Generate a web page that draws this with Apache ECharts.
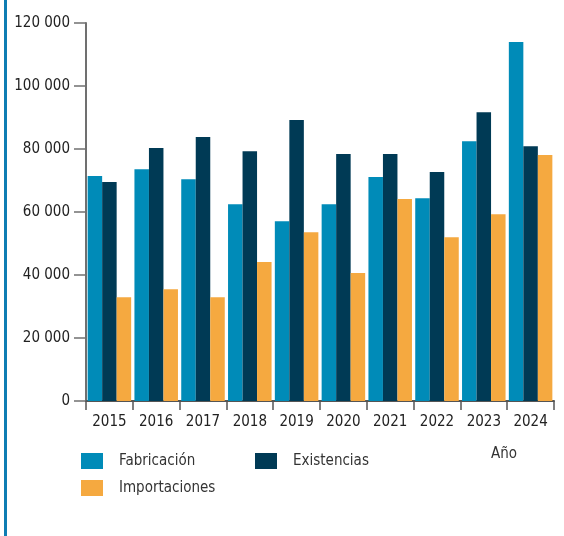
<!DOCTYPE html>
<html>
<head>
<meta charset="utf-8">
<script src="https://cdn.jsdelivr.net/npm/echarts@6/dist/echarts.min.js"></script>
<style>
  html, body { margin: 0; padding: 0; background: #fff; }
  #chart { width: 564px; height: 536px; }
</style>
</head>
<body>
<div id="chart"></div>
<script>
// datos
const years = ['2015', '2016', '2017', '2018', '2019', '2020', '2021', '2022', '2023', '2024']
const fabricacion = [71400, 73600, 70400, 62500, 57100, 62500, 71100, 64400, 82500, 114000]
const existencias = [69500, 80300, 83800, 79300, 89200, 78400, 78400, 72700, 91700, 80900]
const importaciones = [32900, 35500, 32900, 44100, 53600, 40600, 64100, 52000, 59300, 78100]

const font = '"DejaVu Sans Condensed", sans-serif'
const colors = { fab: '#008bb8', exi: '#003a55', imp: '#f5a940' }

function fmt(v) {
  return String(v).replace(/\B(?=(\d{3})+(?!\d))/g, ' ')
}

function legendAt(name, left, top) {
  return {
    data: [name],
    left: left,
    top: top,
    itemWidth: 22,
    itemHeight: 16,
    itemGap: 0,
    icon: 'rect',
    padding: 0,
    selectedMode: false,
    textStyle: { fontFamily: font, fontSize: 15, color: '#333', padding: [0, 0, 0, 11] }
  }
}

const chart = echarts.init(document.getElementById('chart'))
chart.setOption({
  animation: false,
  textStyle: { fontFamily: font },
  grid: { left: 86, right: 10, top: 23, bottom: 135 },
  legend: [
    legendAt('Fabricación', 81, 453),
    legendAt('Existencias', 255, 453),
    legendAt('Importaciones', 81, 480)
  ],
  graphic: [{
    type: 'rect',
    left: 4,
    top: 0,
    shape: { width: 3, height: 536 },
    style: { fill: '#0f7db3' }
  }],
  xAxis: {
    type: 'category',
    data: years,
    name: 'Año',
    nameLocation: 'end',
    nameGap: -37,
    nameTextStyle: {
      fontFamily: font, fontSize: 15, color: '#333',
      align: 'right', verticalAlign: 'top', padding: [46, 0, 0, 0]
    },
    axisLine: { lineStyle: { color: '#555', width: 2 } },
    axisTick: { show: true, length: 9, alignWithLabel: false, lineStyle: { color: '#555', width: 1.5 } },
    axisLabel: { fontFamily: font, fontSize: 15, color: '#222', margin: 14, interval: 0 }
  },
  yAxis: {
    type: 'value',
    min: 0,
    max: 120000,
    interval: 20000,
    axisLine: { show: true, lineStyle: { color: '#707070', width: 2 } },
    axisTick: { show: true, length: 12, lineStyle: { color: '#707070', width: 1.5 } },
    splitLine: { show: false },
    axisLabel: { fontFamily: font, fontSize: 15, color: '#222', margin: 16, formatter: fmt }
  },
  series: [
    {
      name: 'Fabricación', type: 'bar', data: fabricacion,
      itemStyle: { color: colors.fab }, barGap: '0%', barCategoryGap: '7%'
    },
    {
      name: 'Existencias', type: 'bar', data: existencias,
      itemStyle: { color: colors.exi }, barGap: '0%', barCategoryGap: '7%'
    },
    {
      name: 'Importaciones', type: 'bar', data: importaciones,
      itemStyle: { color: colors.imp }, barGap: '0%', barCategoryGap: '7%'
    }
  ]
})
</script>
</body>
</html>
